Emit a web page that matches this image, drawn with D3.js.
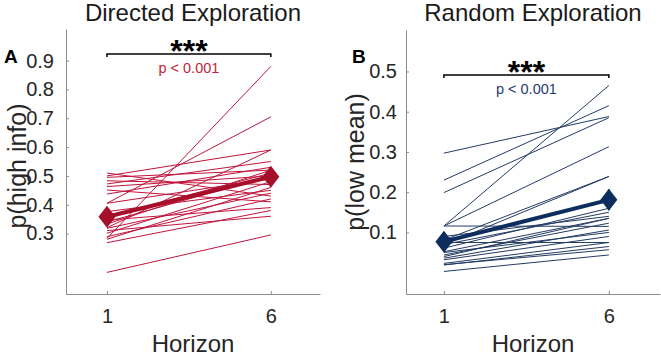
<!DOCTYPE html>
<html>
<head>
<meta charset="utf-8">
<script src="https://cdn.jsdelivr.net/npm/d3@7"></script>
<style>
    body { margin: 0; background: #fff; }
    #chart { width: 661px; height: 357px; }
    text { font-family: "Liberation Sans", Arial, sans-serif; }
    .axis path, .axis line { stroke: #8c8c8c; }
    .axis text { fill: #262626; }
</style>
</head>
<body>
<div id="chart"></div>
<script>

// Data
const horizons = [1, 6];

// Directed exploration, p(high info), one entry per subject
const directedH1 = [0.165, 0.283, 0.405, 0.500, 0.320, 0.510, 0.495, 0.483, 0.472, 0.463, 0.451, 0.437,
                    0.405, 0.376, 0.358, 0.347, 0.333, 0.318, 0.301, 0.289, 0.268, 0.280, 0.340, 0.310];
const directedH6 = [0.295, 0.880, 0.705, 0.590, 0.590, 0.430, 0.520, 0.470, 0.550, 0.500, 0.410, 0.530,
                    0.490, 0.450, 0.510, 0.390, 0.520, 0.440, 0.480, 0.420, 0.380, 0.460, 0.500, 0.360];
const directedMean = [0.358, 0.497];
const directedSem = [0.014, 0.018];
const directedTicks = [0.3, 0.4, 0.5, 0.6, 0.7, 0.8, 0.9];

// Random exploration, p(low mean)
const randomH1 = [0.297, 0.230, 0.199, 0.116, 0.116, 0.116, 0.081, 0.069, 0.061, 0.052, 0.044,
                  0.036, 0.032, 0.023, 0.019, 0.003, 0.075, 0.040, 0.020, 0.050, 0.070, 0.090];
const randomH6 = [0.388, 0.415, 0.385, 0.465, 0.313, 0.115, 0.239, 0.239, 0.160, 0.135, 0.123,
                  0.106, 0.090, 0.075, 0.065, 0.044, 0.075, 0.135, 0.057, 0.100, 0.150, 0.140];
const randomMean = [0.077, 0.181];
const randomSem = [0.012, 0.026];
const randomTicks = [0.1, 0.2, 0.3, 0.4, 0.5];

const horizonTicks = [1, 6];


class SlopeVis {
    constructor(svg, config) {
        this.svg = svg;
        this.config = config;
        this.displayData = [];

        this.initVis();
    }

    initVis() {
        let vis = this;
        let c = vis.config;

        vis.g = vis.svg.append("g");

        // Scales
        vis.x = d3.scaleLinear()
            .domain(c.xDomain)
            .range([c.left, c.right]);

        vis.y = d3.scaleLinear()
            .domain(c.yDomain)
            .range([c.bottom, c.top]);

        // Axes (ticks point inward like matlab)
        vis.xAxis = d3.axisBottom(vis.x)
            .tickValues(horizonTicks)
            .tickFormat(d3.format("d"))
            .tickSizeInner(-3)
            .tickSizeOuter(0)
            .tickPadding(15);

        vis.yAxis = d3.axisLeft(vis.y)
            .tickValues(c.ticks)
            .tickFormat(d3.format(".1f"))
            .tickSizeInner(-3)
            .tickSizeOuter(0)
            .tickPadding(c.tickPad);

        vis.g.append("g")
            .attr("class", "axis x-axis")
            .attr("transform", "translate(0," + c.bottom + ")")
            .call(vis.xAxis)
            .call(g => g.selectAll("text").style("font-size", "20px"));

        vis.g.append("g")
            .attr("class", "axis y-axis")
            .attr("transform", "translate(" + c.left + ",0)")
            .call(vis.yAxis)
            .call(g => g.selectAll("text").style("font-size", "20px"));

        // Title + labels
        vis.g.append("text")
            .attr("x", (c.left + c.right) / 2)
            .attr("y", 21)
            .attr("text-anchor", "middle")
            .style("font-size", "24px")
            .attr("fill", "#1a1a1a")
            .text(c.title);

        vis.g.append("text")
            .attr("x", (c.left + c.right) / 2)
            .attr("y", 352)
            .attr("text-anchor", "middle")
            .style("font-size", "24px")
            .attr("fill", "#262626")
            .text("Horizon");

        vis.g.append("text")
            .attr("transform", "translate(" + c.ylabelX + "," + c.ylabelY + ") rotate(-90)")
            .attr("text-anchor", "middle")
            .style("font-size", "25px")
            .attr("fill", "#262626")
            .text(c.ylabel);

        vis.g.append("text")
            .attr("x", c.letterX)
            .attr("y", 63)
            .style("font-size", "19px")
            .style("font-weight", "bold")
            .attr("fill", "#000")
            .text(c.letter);

        vis.lineGroup = vis.g.append("g").attr("class", "subjects");
        vis.meanGroup = vis.g.append("g").attr("class", "mean");

        vis.wrangleData();
    }

    wrangleData() {
        let vis = this;
        let c = vis.config;

        vis.displayData = c.h1.map((d, i) => [
            {h: horizons[0], v: d},
            {h: horizons[1], v: c.h6[i]}
        ]);
        vis.meanData = horizons.map((h, i) => ({h: h, v: c.mean[i], sem: c.sem[i]}));

        vis.updateVis();
    }

    updateVis() {
        let vis = this;
        let c = vis.config;

        let line = d3.line()
            .x(d => vis.x(d.h))
            .y(d => vis.y(d.v));

        vis.lineGroup.selectAll("path")
            .data(vis.displayData)
            .enter()
            .append("path")
            .attr("d", line)
            .attr("fill", "none")
            .attr("stroke", c.lineColor)
            .attr("stroke-width", 1);

        // mean line
        vis.meanGroup.append("path")
            .datum(vis.meanData)
            .attr("d", line)
            .attr("fill", "none")
            .attr("stroke", c.meanColor)
            .attr("stroke-width", 4);

        // error bars
        vis.meanGroup.selectAll(".err")
            .data(vis.meanData)
            .enter()
            .append("line")
            .attr("class", "err")
            .attr("x1", d => vis.x(d.h))
            .attr("x2", d => vis.x(d.h))
            .attr("y1", d => vis.y(d.v - d.sem))
            .attr("y2", d => vis.y(d.v + d.sem))
            .attr("stroke", c.meanColor)
            .attr("stroke-width", 2);

        // diamonds
        vis.meanGroup.selectAll(".diamond")
            .data(vis.meanData)
            .enter()
            .append("path")
            .attr("class", "diamond")
            .attr("transform", d => "translate(" + vis.x(d.h) + "," + vis.y(d.v) + ")")
            .attr("d", "M0,-11L8.5,0L0,11L-8.5,0Z")
            .attr("fill", c.meanColor);

        // significance bracket
        let bx1 = vis.x(horizons[0]), bx2 = vis.x(horizons[1]);
        let by = c.bracketY;
        vis.g.append("path")
            .attr("d", "M" + bx1 + "," + (by + 3) + "V" + by + "H" + bx2 + "V" + (by + 3))
            .attr("fill", "none")
            .attr("stroke", "#000")
            .attr("stroke-width", 1.5);

        vis.g.append("text")
            .attr("x", (bx1 + bx2) / 2)
            .attr("y", by + 8)
            .attr("text-anchor", "middle")
            .style("font-size", "32px")
            .style("font-weight", "bold")
            .attr("fill", "#000")
            .text("***");

        vis.g.append("text")
            .attr("x", (bx1 + bx2) / 2)
            .attr("y", by + 19)
            .attr("text-anchor", "middle")
            .style("font-size", "14.5px")
            .attr("fill", c.pColor)
            .text("p < 0.001");
    }
}

let svg = d3.select("#chart").append("svg")
    .attr("width", 661)
    .attr("height", 357);

new SlopeVis(svg, {
    title: "Directed Exploration",
    ylabel: "p(high info)",
    letter: "A",
    letterX: 4,
    ylabelX: 26, ylabelY: 166,
    left: 66, right: 320, top: 29, bottom: 294,
    xDomain: [-0.25, 7.5],
    yDomain: [0.09, 1.01],
    ticks: directedTicks,
    tickPad: 12,
    h1: directedH1, h6: directedH6,
    mean: directedMean, sem: directedSem,
    lineColor: "#c0143c",
    meanColor: "#a50f2a",
    pColor: "#c41e3a",
    bracketY: 54
});

new SlopeVis(svg, {
    title: "Random Exploration",
    ylabel: "p(low mean)",
    letter: "B",
    letterX: 352,
    ylabelX: 364, ylabelY: 162,
    left: 406, right: 660, top: 30, bottom: 294,
    xDomain: [-0.15, 7.55],
    yDomain: [-0.053, 0.603],
    ticks: randomTicks,
    tickPad: 9,
    h1: randomH1, h6: randomH6,
    mean: randomMean, sem: randomSem,
    lineColor: "#243b63",
    meanColor: "#0c2d5e",
    pColor: "#1f3c6e",
    bracketY: 75
});

</script>
</body>
</html>
